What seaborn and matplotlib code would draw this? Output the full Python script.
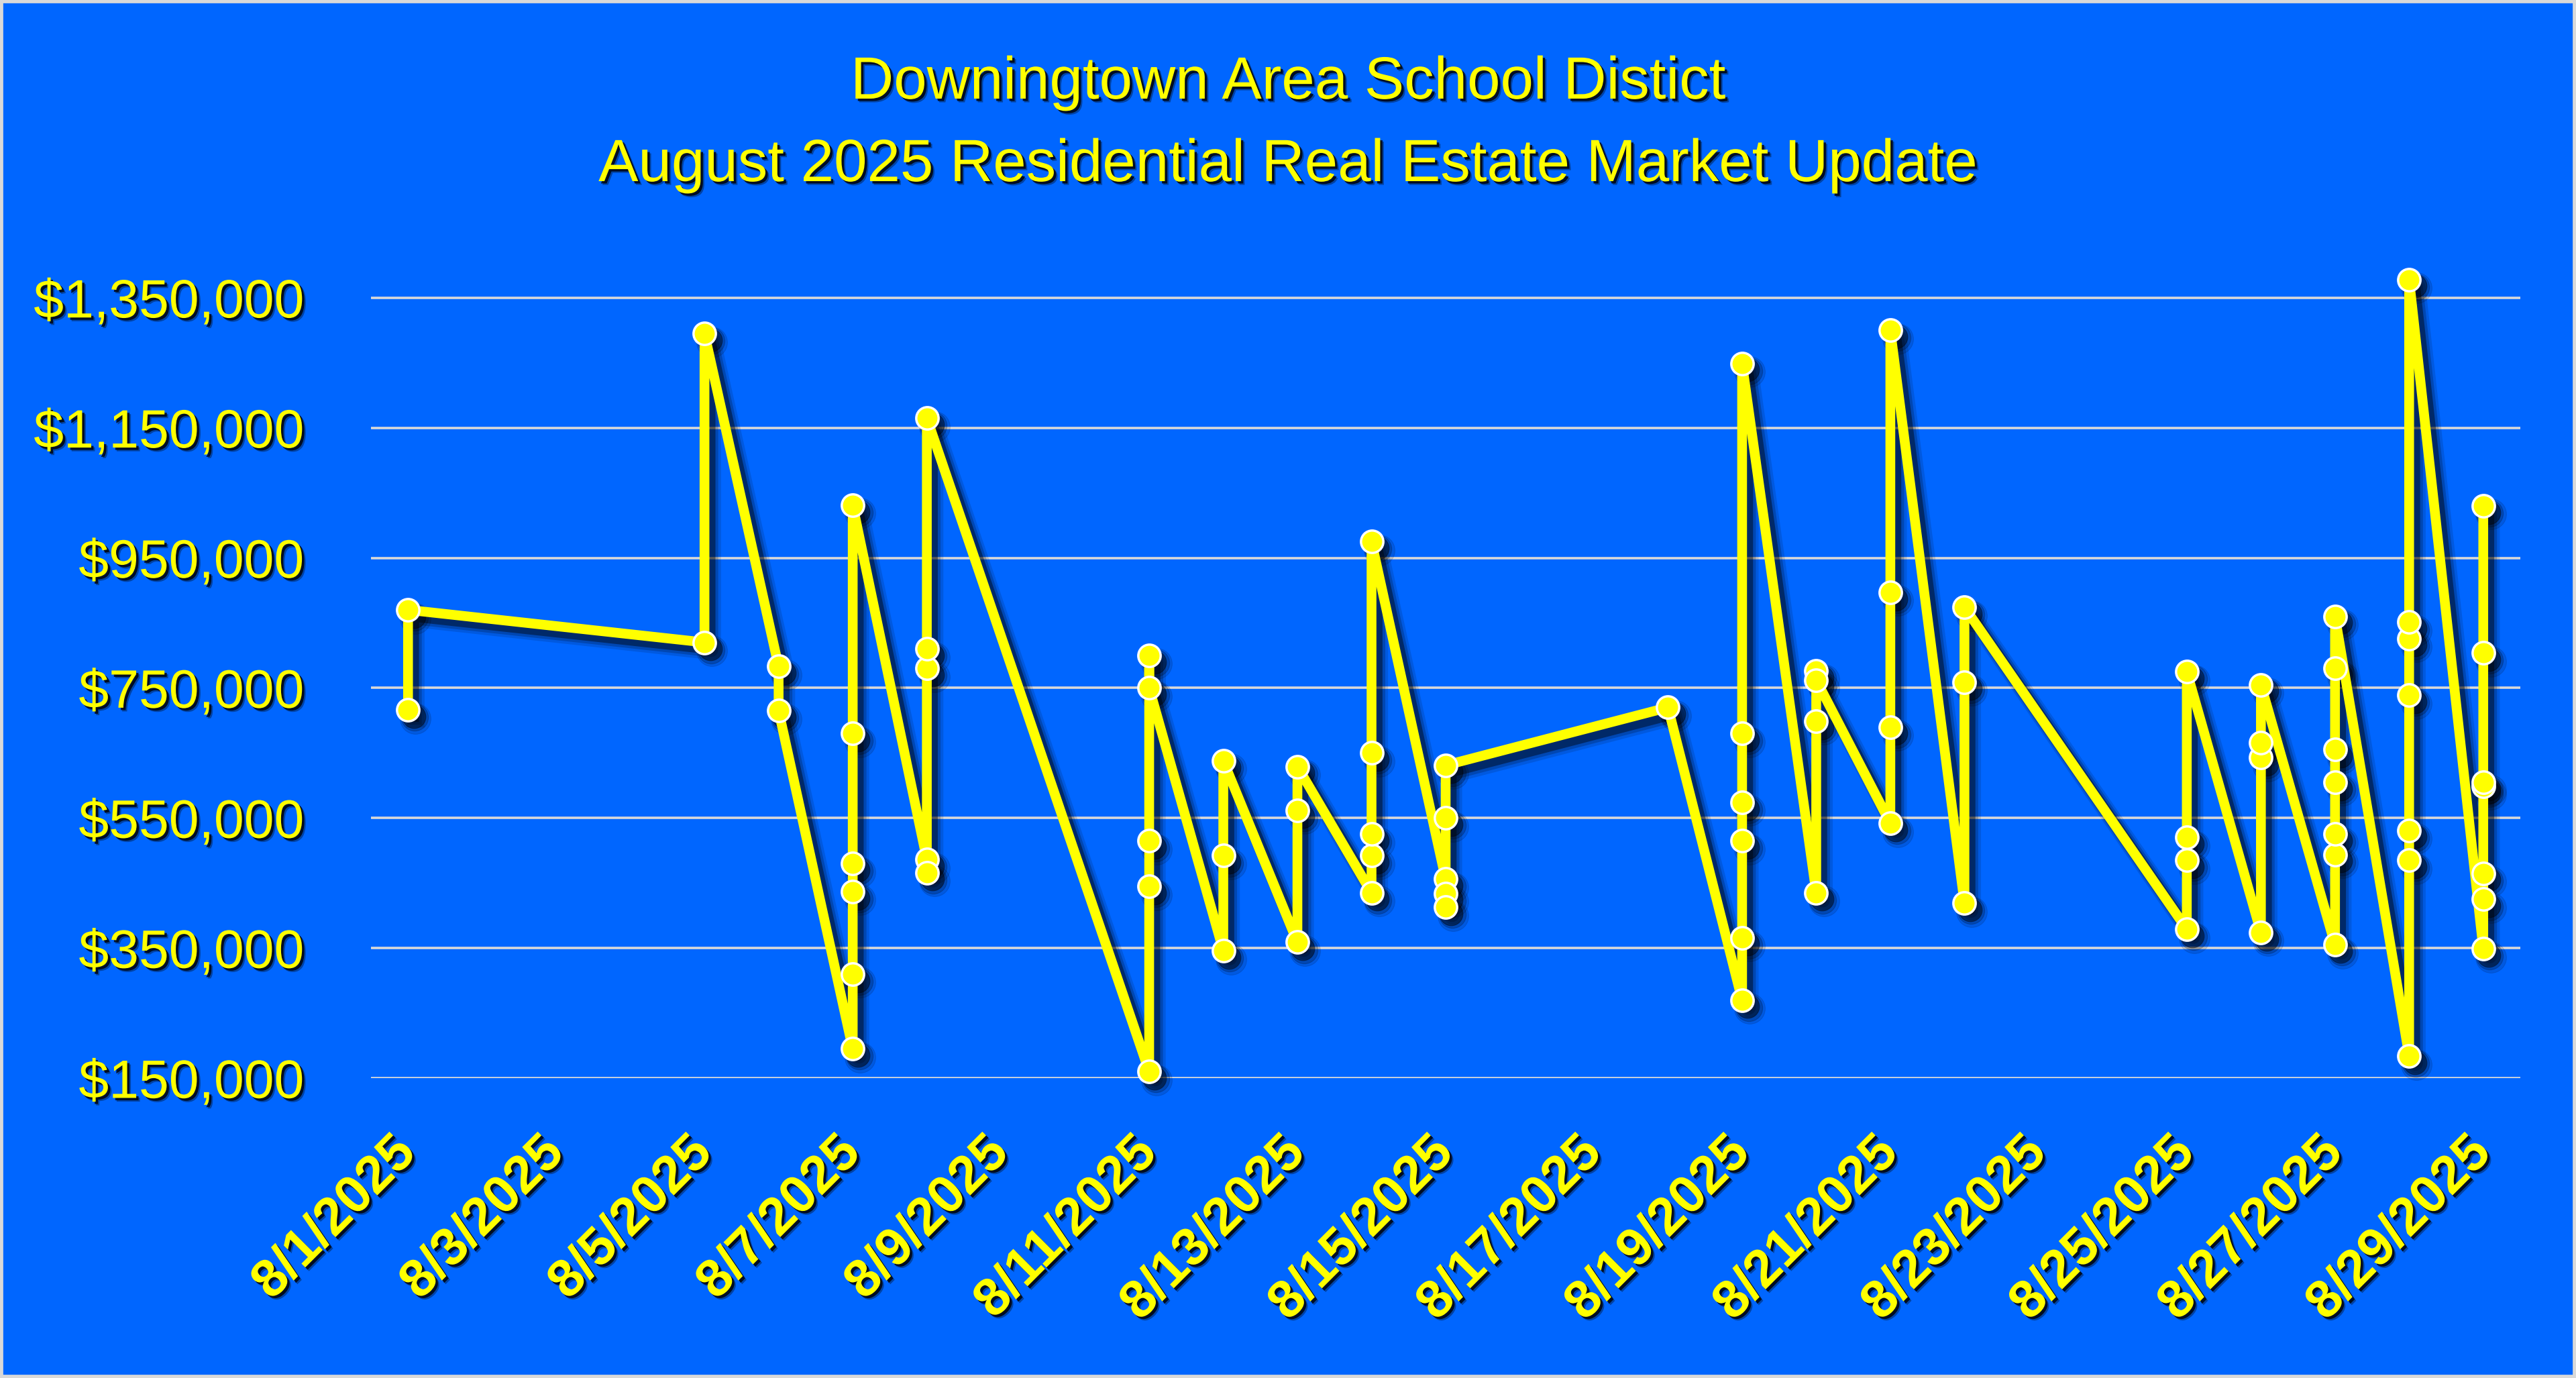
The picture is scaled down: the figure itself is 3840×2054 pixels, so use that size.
import numpy as np
import pandas as pd
import matplotlib
matplotlib.use("Agg")
import matplotlib.pyplot as plt
import matplotlib.patheffects as pe
import matplotlib.transforms as mtransforms
from matplotlib.patches import Rectangle
import seaborn as sns

# ---------------- data ----------------
dates = (
    ["2025-08-01"] * 2 + ["2025-08-05"] * 2 + ["2025-08-06"] * 2 +
    ["2025-08-07"] * 6 + ["2025-08-08"] * 5 + ["2025-08-11"] * 5 +
    ["2025-08-12"] * 3 + ["2025-08-13"] * 3 + ["2025-08-14"] * 5 +
    ["2025-08-15"] * 5 + ["2025-08-18"] * 1 + ["2025-08-19"] * 6 +
    ["2025-08-20"] * 4 + ["2025-08-21"] * 4 + ["2025-08-22"] * 3 +
    ["2025-08-25"] * 4 + ["2025-08-26"] * 4 + ["2025-08-27"] * 7 +
    ["2025-08-28"] * 7 + ["2025-08-29"] * 7
)
prices = [
    716000, 870000,
    820000, 1295000,
    783000, 715000,
    195000, 310000, 437000, 480000, 680000, 1031000,
    486000, 466000, 780000, 810000, 1165000,
    160000, 445000, 515000, 800000, 750000,
    346000, 492000, 638000,
    359000, 562000, 629000,
    435000, 492000, 525000, 650000, 975000,
    456000, 434000, 413000, 550000, 631000,
    720000,
    270000, 366000, 515000, 574000, 680000, 1249000,
    435000, 699000, 776000, 762000,
    542000, 690000, 897000, 1300000,
    419000, 759000, 874000,
    379000, 485000, 520000, 775000,
    374000, 643000, 666000, 755000,
    355000, 494000, 525000, 605000, 655000, 780000, 860000,
    184000, 485000, 531000, 739000, 826000, 851000, 1378000,
    349000, 425000, 465000, 599000, 605000, 804000, 1030000,
]
tick_dates = ["2025-08-%02d" % d for d in range(1, 30, 2)]
tick_labels = ["8/%d/2025" % d for d in range(1, 30, 2)]
ytick_values = [150000, 350000, 550000, 750000, 950000, 1150000, 1350000]
ytick_labels = ["$150,000", "$350,000", "$550,000", "$750,000",
                "$950,000", "$1,150,000", "$1,350,000"]
title_line1 = "Downingtown Area School Distict"
title_line2 = "August 2025 Residential Real Estate Market Update"

# ---------------- style ----------------
BG = "#0066FF"
YEL = "#FFFF00"
GRID = "#D9D9D9"
W, H = 3840, 2054

df = pd.DataFrame({"date": pd.to_datetime(dates), "price": prices})

fig = plt.figure(figsize=(W / 100, H / 100), dpi=100, facecolor=BG)
ax_left, ax_right = 553, 3757
ax_top, ax_bottom = 395.3, 1607
ax = fig.add_axes([ax_left / W, (H - ax_bottom) / H,
                   (ax_right - ax_left) / W, (ax_bottom - ax_top) / H])
ax.set_facecolor(BG)

LW = 10.5
MS = 24

# blurred drop shadow built from several translucent offset copies
shadow_layers = [(8, -9, 9, 0.12), (7, -8, 5, 0.20), (6, -7, 1, 0.42)]
for dx, dy, extra, a in shadow_layers:
    sns.lineplot(data=df, x="date", y="price", sort=False, estimator=None,
                 ax=ax, color="black", linewidth=LW + extra, marker="o",
                 markersize=MS + extra, markerfacecolor="black",
                 markeredgecolor="black", alpha=a, legend=False)
    ln = ax.lines[-1]
    ln.set_transform(ax.transData + mtransforms.ScaledTranslation(
        dx / 72, dy / 72, fig.dpi_scale_trans))
    ln.set_zorder(2)
    ln.set_clip_on(False)

sns.lineplot(data=df, x="date", y="price", sort=False, estimator=None,
             ax=ax, color=YEL, linewidth=LW, marker="o", markersize=MS,
             markerfacecolor=YEL, markeredgecolor="white",
             markeredgewidth=2.5, legend=False)
ax.lines[-1].set_zorder(3)
ax.lines[-1].set_clip_on(False)

# axes
ax.set_ylim(150000, 1400000)
ax.set_xlim(pd.Timestamp("2025-07-31 12:00"), pd.Timestamp("2025-08-29 12:00"))
ax.set_yticks(ytick_values)
ax.set_xticks(pd.to_datetime(tick_dates))
ax.yaxis.grid(True, color=GRID, linewidth=2.6)
ax.xaxis.grid(False)
ax.set_axisbelow(True)
for s in ax.spines.values():
    s.set_visible(False)
ax.set_xlabel("")
ax.set_ylabel("")
ax.tick_params(axis="both", length=0)
ax.tick_params(axis="y", pad=72)
ax.tick_params(axis="x", pad=72)

txt_fx = [pe.SimplePatchShadow(offset=(4, -4), shadow_rgbFace="black", alpha=0.35),
          pe.SimplePatchShadow(offset=(2.5, -2.5), shadow_rgbFace="black", alpha=0.8),
          pe.Normal()]

ax.set_yticklabels(ytick_labels, fontsize=58, color=YEL,
                   family=["Liberation Sans", "DejaVu Sans"])
for t in ax.get_yticklabels():
    t.set_path_effects(txt_fx)

ax.set_xticklabels(tick_labels, fontsize=57, fontweight="bold", color=YEL,
                   family=["Liberation Sans", "DejaVu Sans"],
                   rotation=45, ha="right", va="center", rotation_mode="anchor")
for t in ax.get_xticklabels():
    t.set_path_effects(txt_fx)

title_fx = [pe.SimplePatchShadow(offset=(4, -4), shadow_rgbFace="black", alpha=0.35),
            pe.SimplePatchShadow(offset=(2.5, -2.5), shadow_rgbFace="black", alpha=0.8),
            pe.Normal()]
fig.text(0.5, 1 - 147 / H, title_line1, ha="center", va="baseline",
         fontsize=64, color=YEL, family=["Liberation Sans", "DejaVu Sans"],
         path_effects=title_fx)
fig.text(0.5, 1 - 270 / H, title_line2, ha="center", va="baseline",
         fontsize=64, color=YEL, family=["Liberation Sans", "DejaVu Sans"],
         path_effects=title_fx)

fig.patches.append(Rectangle((0, 0), 1, 1, transform=fig.transFigure,
                             fill=False, edgecolor=GRID, linewidth=7))

fig.savefig("out.png", dpi=100, facecolor=BG)
